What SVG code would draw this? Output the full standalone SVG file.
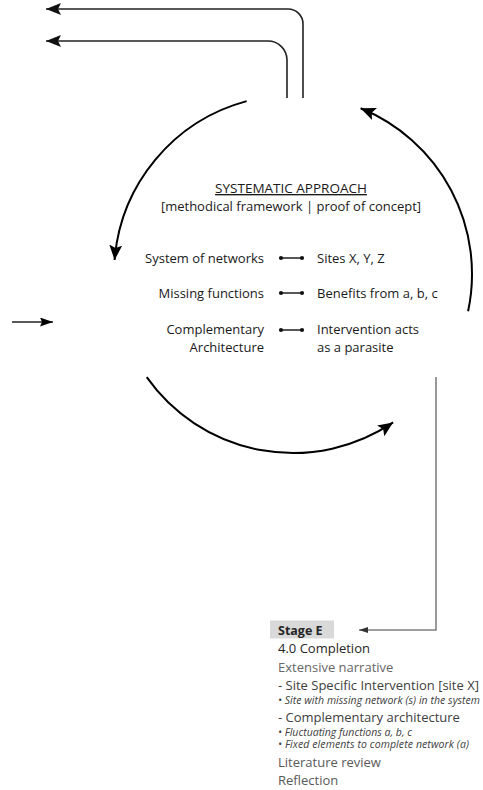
<svg xmlns="http://www.w3.org/2000/svg" width="483" height="790" viewBox="0 0 483 790">
<style>
text{font-family:"Open Sans","Liberation Sans",sans-serif;}
.c{font-size:13px;fill:#1a1a1a;}
.arc{fill:none;stroke:#000;stroke-width:2;}
.ln{fill:none;stroke:#222;stroke-width:1.6;}
.gl{fill:none;stroke:#808080;stroke-width:1.6;}
.lst{font-size:13px;}
.it{font-size:10.5px;font-style:italic;fill:#404040;}
</style>
<defs>
<marker id="big" markerUnits="userSpaceOnUse" markerWidth="16" markerHeight="14" refX="15" refY="6.5" orient="auto">
<path d="M0,0 L15,6.5 L0,13 L3,6.5 z" fill="#000"/>
</marker>
<marker id="top" markerUnits="userSpaceOnUse" markerWidth="16" markerHeight="14" refX="15" refY="6" orient="auto">
<path d="M0,0 L15,6 L0,12 L3,6 z" fill="#111"/>
</marker>
<marker id="sm" markerUnits="userSpaceOnUse" markerWidth="14" markerHeight="10" refX="13" refY="4.5" orient="auto">
<path d="M0,0 L13,4.5 L0,9 L2,4.5 z" fill="#000"/>
</marker>
<marker id="tiny" markerUnits="userSpaceOnUse" markerWidth="10" markerHeight="8" refX="9" refY="3" orient="auto">
<path d="M0,0 L9,3 L0,6 z" fill="#333"/>
</marker>
</defs>

<g id="connectors">
<path class="ln" d="M303,98 V24 A15,15 0 0 0 288,9 H46" marker-end="url(#top)"/>
<path class="ln" d="M287,98 V60 A19,19 0 0 0 268,41 H46" marker-end="url(#top)"/>
<path class="arc" d="M246.7,101.1 A179,179 0 0 0 114.6,260" marker-end="url(#big)"/>
<path class="arc" d="M146.7,377.2 A179,179 0 0 0 393.1,422.4" marker-end="url(#big)"/>
<path class="arc" d="M468.1,311.2 A179,179 0 0 0 360.6,108.3" marker-end="url(#big)"/>
<path class="ln" d="M12,322 H53" marker-end="url(#sm)"/>
<path class="gl" d="M436,377 V630 H359" marker-end="url(#tiny)"/>
</g>

<g id="center">
<text class="c" x="291" y="193" text-anchor="middle" style="font-size:13.5px;text-decoration:underline">SYSTEMATIC APPROACH</text>
<text class="c" x="291" y="211" text-anchor="middle">[methodical framework | proof of concept]</text>
</g>

<g id="row1">
<text class="c" x="264" y="262.5" text-anchor="end">System of networks</text>
<line x1="281" y1="258" x2="302" y2="258" stroke="#111" stroke-width="1.4"/>
<circle cx="281" cy="258" r="2.1" fill="#111"/><circle cx="302" cy="258" r="2.1" fill="#111"/>
<text class="c" x="317" y="262.5">Sites X, Y, Z</text>
</g>
<g id="row2">
<text class="c" x="264" y="297.5" text-anchor="end">Missing functions</text>
<line x1="281" y1="293" x2="302" y2="293" stroke="#111" stroke-width="1.4"/>
<circle cx="281" cy="293" r="2.1" fill="#111"/><circle cx="302" cy="293" r="2.1" fill="#111"/>
<text class="c" x="317" y="297.5">Benefits from a, b, c</text>
</g>
<g id="row3">
<text class="c" x="264" y="334" text-anchor="end">Complementary</text>
<text class="c" x="264" y="352" text-anchor="end">Architecture</text>
<line x1="281" y1="330" x2="302" y2="330" stroke="#111" stroke-width="1.4"/>
<circle cx="281" cy="330" r="2.1" fill="#111"/><circle cx="302" cy="330" r="2.1" fill="#111"/>
<text class="c" x="317" y="334">Intervention acts</text>
<text class="c" x="317" y="352">as a parasite</text>
</g>

<g id="stageE">
<rect x="270" y="620.5" width="64" height="18" fill="#d9d9d9"/>
<text x="278" y="635" style="font-size:12.5px;font-weight:bold;fill:#262626">Stage E</text>
<text class="lst" x="278" y="653" fill="#262626">4.0 Completion</text>
<text class="lst" x="278" y="671.5" fill="#666666">Extensive narrative</text>
<text class="lst" x="278" y="689.5" fill="#404040">- Site Specific Intervention [site X]</text>
<text class="it" x="278" y="703.5" textLength="202">• Site with missing network (s) in the system</text>
<text class="lst" x="278" y="721.5" fill="#404040">- Complementary architecture</text>
<text class="it" x="278" y="735.5" textLength="134">• Fluctuating functions a, b, c</text>
<text class="it" x="278" y="748" textLength="191">• Fixed elements to complete network (a)</text>
<text class="lst" x="278" y="766.5" fill="#595959">Literature review</text>
<text class="lst" x="278" y="784.5" fill="#595959">Reflection</text>
</g>
</svg>
